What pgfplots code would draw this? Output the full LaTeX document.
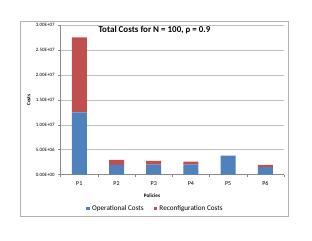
\documentclass[border=0pt]{standalone}
\usepackage{fontspec}
\setmainfont{Carlito}
\usepackage{pgfplots}
\pgfplotsset{compat=1.18}
\definecolor{opblue}{HTML}{4F81BD}
\definecolor{rcred}{HTML}{C0504D}
\begin{document}
\begin{tikzpicture}
\useasboundingbox (0bp,0bp) rectangle (312bp,241bp);
\draw[black!30, line width=0.6bp] (20bp,25bp) rectangle (288bp,220bp);
\begin{axis}[
  at={(60.7bp,66.3bp)}, anchor=south west,
  scale only axis, width=223.3bp, height=149.7bp,
  ybar stacked, bar width=15bp,
  xmin=-0.5, xmax=5.5, ymin=0, ymax=3e7,
  xtick={0,1,2,3,4,5}, xticklabels={P1,P2,P3,P4,P5,P6},
  minor xtick={-0.5,0.5,1.5,2.5,3.5,4.5,5.5},
  ytick={0,5e6,1e7,1.5e7,2e7,2.5e7,3e7},
  yticklabels={0.00E+00,5.00E+06,1.00E+07,1.50E+07,2.00E+07,2.50E+07,3.00E+07},
  scaled y ticks=false,
  axis x line*=bottom, axis y line*=left,
  axis line style={black!45, line width=0.5bp},
  tick align=outside,
  major x tick style={draw=none},
  minor x tick style={black!45, line width=0.5bp},
  minor tick length=2.5bp,
  major tick length=2.5bp,
  y tick style={black!45, line width=0.5bp},
  ymajorgrids, grid style={black!25, line width=0.5bp},
  x tick label style={font=\fontsize{6}{7}\selectfont, yshift=-1bp},
  y tick label style={font=\fontsize{5}{6}\selectfont},
  xlabel={\textbf{Policies}},
  xlabel style={font=\fontsize{5.2}{6}\selectfont, at={(axis description cs:0.409,-0.142)}, anchor=center},
  ylabel={\textbf{Costs}},
  ylabel style={font=\fontsize{5.2}{6}\selectfont, at={(axis description cs:-0.143,0.5)}, anchor=center},
  every axis title shift=0pt,
  title={\textbf{Total Costs for N = 100, ρ = 0.9}},
  title style={font=\fontsize{9}{10}\selectfont, at={(axis description cs:0.42,0.967)}, anchor=center},
  legend columns=2,
  legend style={draw=none, fill=none, font=\fontsize{7.2}{8}\selectfont,
    at={(axis description cs:0.4245,-0.2245)}, anchor=center,
    /tikz/every even column/.append style={column sep=8bp}},
  legend image code/.code={\fill[#1] (0bp,-1.8bp) rectangle (3.8bp,1.8bp);},
]
\addplot[fill=opblue, draw=none] coordinates {(0,1.25e7) (1,1.95e6) (2,2.0e6) (3,2.0e6) (4,3.8e6) (5,1.5e6)};
\addplot[fill=rcred, draw=none] coordinates {(0,1.5e7) (1,1.0e6) (2,0.75e6) (3,0.6e6) (4,0) (5,0.45e6)};
\legend{Operational Costs, Reconfiguration Costs}
\end{axis}
\end{tikzpicture}
\end{document}
